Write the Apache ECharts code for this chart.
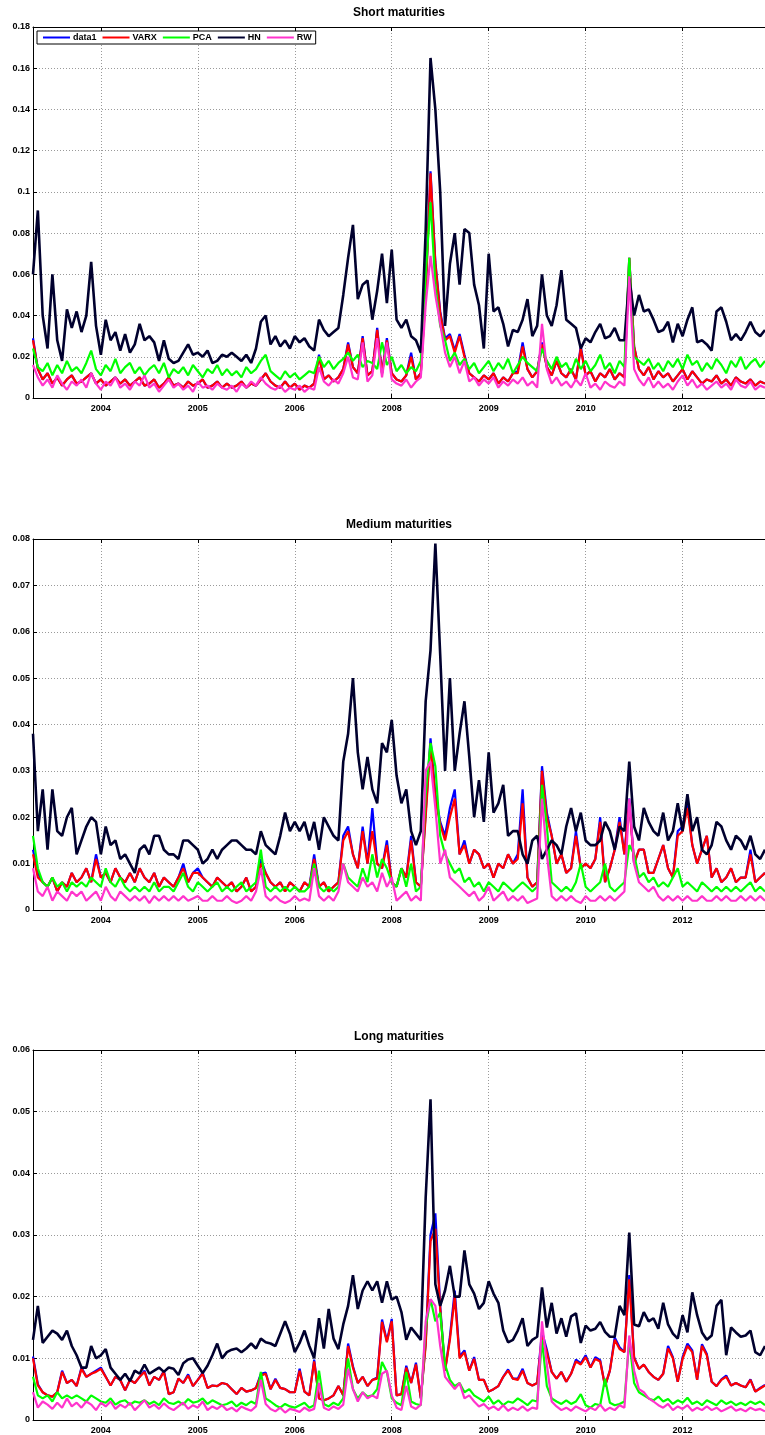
<!DOCTYPE html>
<html>
<head>
<meta charset="utf-8">
<script src="https://cdn.jsdelivr.net/npm/echarts@6/dist/echarts.min.js"></script>
<style>
  html, body { margin: 0; padding: 0; background: #fff; }
  #chart { width: 765px; height: 1435px; }
</style>
</head>
<body>
<div id="chart"></div>
<script>
// Weekly forecast errors, stored in thousandths (1 = 0.001)
const SERIES_NAMES = ['data1', 'VARX', 'PCA', 'HN', 'RW'];
const PANEL_TITLES = ['Short maturities', 'Medium maturities', 'Long maturities'];
const TICK_INDEX = [14, 34, 54, 74, 94, 114, 134];
const TICK_LABELS = ['2004', '2005', '2006', '2008', '2009', '2010', '2012'];

// ---- Short maturities ----
const DATA1_SHORT = [
  29,14,9,12,7,10,6,9,11,7,
  8,10,12,7,9,6,8,10,7,9,
  6,8,10,6,7,9,5,7,10,6,
  7,5,8,6,7,9,5,6,8,5,
  7,5,6,8,5,7,6,9,12,8,
  6,5,8,5,7,4,6,5,7,21,
  9,11,8,10,14,27,15,12,30,11,
  13,34,12,29,12,9,8,11,22,9,
  12,52,110,66,42,29,31,23,31,21,
  12,10,8,11,9,12,7,10,8,12,
  13,27,14,10,13,27,15,11,18,12,
  10,14,9,25,11,13,8,12,10,14,
  9,12,10,68,25,14,11,15,9,13,
  10,12,8,11,14,9,13,10,7,9,
  8,11,7,9,6,10,8,7,9,6,
  8,7];
const VARX_SHORT = [
  28,14,9,12,7,10,6,9,11,7,
  8,10,12,7,9,6,8,10,7,9,
  6,8,10,6,7,9,5,7,10,6,
  7,5,8,6,7,9,5,6,8,5,
  7,5,6,8,5,7,6,9,12,8,
  6,5,8,5,7,4,6,5,7,20,
  9,11,8,10,14,26,15,12,29,11,
  13,33,12,28,12,9,8,11,20,9,
  12,50,109,65,41,28,30,22,30,20,
  12,10,8,11,9,12,7,10,8,12,
  12,25,14,10,13,26,15,11,18,12,
  10,14,9,24,11,13,8,12,10,14,
  9,12,10,68,25,14,11,15,9,13,
  10,12,8,11,14,9,13,10,7,9,
  8,11,7,9,6,10,8,7,9,6,
  8,7];
const PCA_SHORT = [
  24,15,13,17,11,16,12,18,13,15,
  12,17,23,14,11,16,13,19,12,15,
  17,12,15,11,14,16,12,17,10,14,
  12,15,11,16,13,10,14,12,16,11,
  14,11,13,10,15,12,14,18,21,13,
  11,9,13,10,12,9,11,13,12,20,
  15,18,14,17,19,22,18,21,15,18,
  17,14,27,16,20,13,16,12,15,13,
  18,60,95,55,35,28,18,22,16,19,
  14,17,12,15,18,13,17,14,19,12,
  16,20,17,15,13,24,18,14,20,15,
  17,12,19,14,18,13,16,21,14,17,
  12,18,15,68,20,18,16,19,14,17,
  13,18,15,19,14,21,16,18,13,17,
  14,19,16,12,18,15,20,14,17,19,
  15,18];
const HN_SHORT = [
  60,91,40,24,60,28,18,43,34,42,
  32,40,66,35,21,38,28,32,23,31,
  22,26,36,28,30,27,18,28,19,17,
  18,22,26,21,22,20,23,17,18,21,
  20,22,20,18,21,17,24,37,40,26,
  30,25,28,24,30,27,29,25,23,38,
  33,30,32,34,50,68,84,48,55,57,
  38,52,70,46,72,38,34,38,30,28,
  22,81,165,140,100,35,65,80,55,82,
  80,55,45,24,70,42,44,36,25,33,
  32,38,48,30,35,60,40,35,45,62,
  38,36,34,24,29,27,32,36,29,30,
  34,28,28,58,40,50,42,43,38,32,
  33,37,27,36,30,38,44,27,28,26,
  23,42,44,37,28,31,28,32,37,32,
  30,33];
const RW_SHORT = [
  16,10,6,9,5,11,7,4,8,6,
  9,5,12,7,4,8,6,10,5,7,
  4,8,6,11,5,7,3,6,9,5,
  7,4,6,3,8,5,6,4,7,5,
  4,6,3,7,5,8,6,10,7,5,
  4,6,3,5,4,6,3,5,4,15,
  8,6,9,7,12,20,10,9,27,8,
  11,29,10,27,9,7,6,9,5,8,
  10,45,69,50,36,22,15,20,12,18,
  8,10,6,9,7,10,5,8,6,9,
  7,10,6,8,5,36,14,7,10,6,
  8,5,9,6,12,5,7,4,8,6,
  5,8,6,59,14,9,6,10,5,8,
  5,7,4,8,11,6,9,5,7,4,
  6,8,5,7,4,9,6,5,8,4,
  6,5];

// ---- Medium maturities ----
const DATA1_MEDIUM = [
  13,8,6,5,7,4,6,5,8,6,
  7,9,6,12,7,8,6,9,7,6,
  8,6,9,7,6,8,5,7,6,5,
  7,10,6,8,9,7,6,5,7,6,
  5,6,4,5,7,4,5,11,8,6,
  5,6,4,6,5,4,6,5,12,5,
  6,4,5,6,16,18,12,9,18,10,
  22,10,9,15,6,5,9,7,16,6,
  5,21,37,25,19,16,22,26,12,15,
  10,13,12,9,10,7,10,9,12,10,
  12,26,7,5,6,31,21,16,10,12,
  8,9,17,9,10,9,11,20,6,9,
  13,20,12,24,10,13,13,8,8,11,
  14,9,7,17,18,23,14,10,13,16,
  7,9,6,7,9,6,7,7,13,6,
  7,8];
const VARX_MEDIUM = [
  12,7,6,5,7,4,6,5,8,6,
  7,9,6,11,7,8,6,9,7,6,
  8,6,9,7,6,8,5,7,6,5,
  7,9,6,8,8,7,6,5,7,6,
  5,6,4,5,7,4,5,10,8,6,
  5,6,4,6,5,4,6,5,11,5,
  6,4,5,6,15,17,12,9,17,10,
  17,10,9,14,6,5,9,7,15,6,
  5,20,36,24,18.5,15,20,24,12,14,
  10,13,12,9,10,7,10,9,12,10,
  11,23,7,5,6,30,20,16,10,12,
  8,9,16,9,10,9,11,19,6,9,
  13,19,12,23,10,13,13,8,8,11,
  14,9,7,16,17,22,14,10,13,16,
  7,9,6,7,9,6,7,7,12,6,
  7,8];
const PCA_MEDIUM = [
  16,9,6,5,7,5,6,4,6,5,
  6,5,7,6,5,9,6,5,7,5,
  4,5,4,5,4,6,4,5,5,4,
  6,8,5,4,6,5,4,5,6,4,
  5,4,5,6,4,5,6,13,5,4,
  5,4,5,4,5,4,4,5,10,5,
  4,5,4,5,10,7,6,5,9,6,
  12,7,11,9,6,5,9,5,10,4,
  5,25,36,31,16,12,10,8,9,6,
  7,5,6,4,6,5,4,6,5,4,
  5,6,5,4,5,27,18,6,5,4,
  5,4,6,10,5,4,5,6,10,5,
  4,5,6,14,12,7,8,6,7,5,
  6,5,7,9,5,6,5,4,6,5,
  4,5,4,5,4,5,4,5,6,4,
  5,4];
const HN_MEDIUM = [
  38,17,26,13,26,17,16,20,22,12,
  15,18,20,19,12,18,14,15,11,12,
  10,8,13,14,12,16,16,13,12,12,
  11,15,15,14,13,10,11,13,11,13,
  14,15,15,14,13,13,12,17,14,13,
  12,16,21,17,19,17,19,15,19,13,
  20,18,16,15,32,38,50,34,26,33,
  26,23,36,34,41,29,23,26,17,14,
  17,45,56,79,55,30,50,30,38,45,
  33,20,28,19,34,21,23,27,16,17,
  17,12,10,15,16,11,13,15,14,12,
  18,22,17,21,15,14,14,15,19,17,
  13,18,17,32,18,15,22,19,17,16,
  21,15,17,23,17,25,17,20,13,12,
  14,19,18,15,13,16,15,13,16,12,
  11,13];
const RW_MEDIUM = [
  9,4,3,5,2,4,3,2,4,3,
  4,2,3,4,2,5,3,2,4,3,
  2,3,2,3,1.5,3,2,3,2,3,
  2,3,2,2.5,3,2,2,3,2,2,
  3,2,1.5,2,3,2,4,9,3,2,
  3,2,1.5,2,3,2,2.5,2,9,3,
  2,3,2,4,10,6,5,4,7,5,
  6,4,8,5,7,2,3,4,2,3,
  2,30,32,22,10,13,7,6,5,4,
  3,4,2,3,5,2,3,4,2,3,
  2,3,1.5,2,2.5,24,12,3,2,3,
  2,3,2,1.5,3,2,2,3,2,3,
  2,3,4,24,10,6,5,4,5,3,
  2,3,2,3,2,3,2,2,3,2,
  2,3,2,3,2,2,3,2,3,2,
  3,2];

// ---- Long maturities ----
const DATA1_LONG = [
  10.3,5.8,4.5,4,3.8,4.5,8,6,6.5,5.5,
  8.5,7,7.5,8,8.5,7,5.6,7,6.5,4.8,
  6.5,6,7,8,5.6,7,6.5,8,4.2,4.5,
  6.7,6,7.4,5.5,6.5,7.7,5.2,5.6,5.5,6,
  5.8,5,4.2,5.2,4.6,4.8,5.2,7.5,7.7,5,
  6.7,5.2,5,4.5,4.5,8.3,4.6,4,9.8,3.5,
  3.2,3.5,4,5.5,4,12.4,8.7,6,7,5.5,
  6.5,6.9,16.3,12.8,16.4,4,4.2,8.8,6,9.3,
  3.5,12.5,30,33.5,18.5,8,13.5,21,10.3,11.3,
  8,10.2,6.5,6.5,4.6,5,5.5,7,8.2,6.7,
  6.7,8.3,6,5.6,6,14.3,11.4,7.8,6.7,7.8,
  6.2,7.5,9.8,9.2,10.5,8.5,10.2,9.7,5.5,8,
  13.4,11.8,11,23.5,10.2,8.3,9,7.8,7,6.5,
  7.5,12,10.2,6.2,10.2,12.4,11.3,6.5,12.3,10.7,
  6.2,5.5,6.6,7.2,5.6,6,5.6,5.3,6.6,4.6,
  5.2,5.7];
const VARX_LONG = [
  10,5.6,4.5,4,3.8,4.5,7.8,6,6.5,5.5,
  8.3,7,7.5,7.8,8.3,7,5.6,7,6.5,4.8,
  6.5,6,7,7.8,5.6,7,6.5,7.8,4.2,4.5,
  6.7,6,7.2,5.5,6.5,7.5,5.2,5.6,5.5,6,
  5.8,5,4.2,5.2,4.6,4.8,5.2,7.2,7.5,5,
  6.5,5.2,5,4.5,4.5,8,4.6,4,9.5,3.5,
  3.2,3.5,4,5.5,4,12,8.5,6,7,5.5,
  6.5,6.7,15.9,12.6,16,4,4.2,8.5,6,9,
  3.5,12,29,31,18,8,13,20,10,11,
  8,9.9,6.5,6.5,4.6,5,5.5,7,8,6.7,
  6.5,8,6,5.6,6,13.5,11,7.8,6.7,7.8,
  6.2,7.5,9.5,9,10.2,8.5,9.9,9.5,5.5,8,
  13,11.5,11,22.8,10,8.3,9,7.8,7,6.5,
  7.5,11.6,10,6.2,9.9,12,11,6.5,12,10.5,
  6.2,5.5,6.5,7,5.6,6,5.6,5.3,6.5,4.6,
  5.1,5.6];
const PCA_LONG = [
  7,4,3.5,4,3,4.5,3.5,4,3.5,4,
  3.5,3,4,3.5,3,2.8,3.5,2.5,3,3.2,
  2.5,3,2.8,3.2,2.6,3,2.4,3.5,2.8,2.6,
  3,2.5,3.4,2.8,3,3.5,2.6,3.2,2.8,2.4,
  2.6,3,2.2,2.8,2.4,3,2.6,7.8,3.5,3,
  2.4,2,2.6,2.2,2,2.4,2.8,2,2.4,8,
  2.6,2.2,2.8,2.4,3.5,10,5,3.5,4.5,3.8,
  4,5,9.4,7.8,3.5,2.8,2.4,7.8,3,2.6,
  2.4,15,19.6,16,17.4,9,6.5,5.5,6,4.5,
  5,4,3.5,3,3.8,2.6,3.2,2.4,3,2.8,
  3.5,3,2.4,3.2,3,13,5.5,3.5,3,2.6,
  3.2,2.6,3,4.2,2.4,2,2.6,2.4,6.7,2.8,
  2.4,2.6,3,13,6,4.5,4,3.5,3.2,3.8,
  3,3.4,2.6,3.2,2.8,3.6,2.6,3,2.4,3.2,
  2.8,2.4,3.2,2.6,3,2.4,2.8,2.4,3,2.6,
  3,2.4];
const HN_LONG = [
  13,18.5,12.5,13.5,14.5,14,13,14.5,12,10.5,
  8.5,8.5,12,10,10.5,11.5,8.5,7.5,6.5,7.5,
  6.3,8,7.5,9,7.5,8,8.5,7.8,8.5,8.3,
  7.3,9.2,9.8,10,8.8,7.6,8.8,10.5,12.4,10,
  11,11.4,11.6,11,11.6,12.4,11.6,13.2,12.6,12.4,
  12,14,16,14,11,12.5,14.5,12,10,16.5,
  11.6,18,13.2,11.5,15.5,18.5,23.5,18,21,22.5,
  21,22.5,19,22.5,19.5,20,17.5,13,15,14,
  13,36,52,22,18.5,21,25,20,20,27.5,
  22,20.5,18,19,22.5,20.5,19,14.5,12.6,13,
  14.5,16.5,12,13,13.5,21.5,15,19,14,16.5,
  13.5,16.8,17.3,12.5,15.3,14.5,14.8,15.9,14.3,13.5,
  13.5,18.5,17,30.4,15.5,15.2,17.5,16,16.5,14.8,
  19,15.5,14,13.2,17,14.2,20.7,17,14.2,13,
  13.7,18.5,19.5,10.5,15,14.2,13.5,13.7,14.5,11,
  10.5,12];
const RW_LONG = [
  4.5,2,3,2.5,1.8,2.8,2,3.5,2.2,2.8,
  2,3,2.5,1.6,2.8,2.2,3,1.8,2.5,2,
  2.8,1.6,2.4,3.2,2,2.5,1.8,2.7,2,1.6,
  2.2,2.8,1.8,2.4,2,3,1.6,2.2,1.8,2.4,
  1.6,2,1.4,2.2,1.8,1.5,2.2,6.5,2.6,1.8,
  1.4,2,1.2,1.8,1.6,1.3,2,1.5,1.8,6,
  2,1.6,2.2,1.8,2.5,8.3,5,3,4.5,3.5,
  4,3.5,7.5,8,4,2,1.6,5.5,2.2,1.8,
  2.5,16,19.6,18.5,12,7,6,5,6,3.5,
  4,3,2.2,2.6,1.8,2.2,1.6,2.4,1.5,2,
  1.6,2.2,1.5,2,1.8,16,9,3,2.2,1.6,
  2,1.5,2.2,1.8,1.4,2,1.6,2.5,1.5,2,
  1.6,2.4,2,13.7,8,5,4.5,3.5,3,2.4,
  2,2.6,1.6,2.2,1.8,2.4,1.5,2,1.6,2.2,
  1.6,2,1.4,1.8,2.2,1.5,1.8,1.4,2,1.6,
  1.8,1.4];

const PANEL_DATA = [
  [DATA1_SHORT, VARX_SHORT, PCA_SHORT, HN_SHORT, RW_SHORT],
  [DATA1_MEDIUM, VARX_MEDIUM, PCA_MEDIUM, HN_MEDIUM, RW_MEDIUM],
  [DATA1_LONG, VARX_LONG, PCA_LONG, HN_LONG, RW_LONG]
];
const PER_UNIT = 1000;

// ---- layout & style ----
const COLORS = ['#0000ff', '#ff0000', '#00ff00', '#00002e', '#ff33cc'];
const LINE_WIDTHS = [2.2, 2.2, 2.2, 2.6, 2.2];
const FONT = '"Liberation Sans", Arial, Helvetica, sans-serif';
const Y_MAX = [0.18, 0.08, 0.06];
const Y_STEP = [0.02, 0.01, 0.01];
const GRID_TOP = [27, 539, 1050];
const GRID_H = [371, 371, 372];
const TITLE_TOP = [7, 519, 1031];

const weeks = HN_SHORT.map((_, i) => i);
const isTick = (idx) => TICK_INDEX.indexOf(idx) !== -1;
const dotted = { color: '#9a9a9a', width: 1, type: [1, 2] };
const black = { color: '#000', width: 1 };

const grids = [], xAxes = [], yAxes = [], titles = [], series = [];
for (let p = 0; p < 3; p++) {
  grids.push({ left: 33, top: GRID_TOP[p], width: 732, height: GRID_H[p], containLabel: false });
  titles.push({
    text: PANEL_TITLES[p], left: 399, top: TITLE_TOP[p], textAlign: 'center', padding: 0,
    textStyle: { fontFamily: FONT, fontWeight: 'bold', fontSize: 12, color: '#000' }
  });
  // bottom axis with year labels
  xAxes.push({
    type: 'category', gridIndex: p, data: weeks, boundaryGap: false, position: 'bottom',
    axisLine: { lineStyle: black },
    axisTick: { inside: true, length: 4, interval: isTick, lineStyle: black },
    axisLabel: {
      interval: isTick, margin: 6,
      fontFamily: FONT, fontWeight: 'bold', fontSize: 9, color: '#000',
      formatter: (v) => TICK_LABELS[TICK_INDEX.indexOf(+v)] || ''
    },
    splitLine: { show: true, interval: isTick, lineStyle: dotted }
  });
  // top frame edge
  xAxes.push({
    type: 'category', gridIndex: p, data: weeks, boundaryGap: false, position: 'top',
    axisLine: { lineStyle: black },
    axisTick: { inside: true, length: 4, interval: isTick, lineStyle: black },
    axisLabel: { show: false },
    splitLine: { show: false }
  });
  yAxes.push({
    type: 'value', gridIndex: p, min: 0, max: Y_MAX[p], interval: Y_STEP[p],
    axisLine: { show: true, lineStyle: black },
    axisTick: { show: true, inside: true, length: 4, lineStyle: black },
    axisLabel: {
      margin: 3, fontFamily: FONT, fontWeight: 'bold', fontSize: 9, color: '#000',
      formatter: (v) => String(Math.round(v * 1000) / 1000)
    },
    splitLine: { show: true, lineStyle: dotted }
  });
  SERIES_NAMES.forEach((name, k) => {
    series.push({
      type: 'line', name: name, xAxisIndex: 2 * p, yAxisIndex: p,
      data: PANEL_DATA[p][k].map((v) => v / PER_UNIT),
      symbol: 'none', silent: true, animation: false,
      lineStyle: { width: LINE_WIDTHS[k], color: COLORS[k] },
      itemStyle: { color: COLORS[k] },
      emphasis: { disabled: true }
    });
  });
}

const chart = echarts.init(document.getElementById('chart'), null, { renderer: 'canvas' });
chart.setOption({
  animation: false,
  backgroundColor: '#fff',
  title: titles,
  legend: {
    data: SERIES_NAMES, left: 37, top: 31, orient: 'horizontal',
    icon: 'rect', itemWidth: 27, itemHeight: 2, itemGap: 6,
    padding: [2, 4, 2, 6], borderColor: '#000', borderWidth: 1, backgroundColor: '#fff',
    textStyle: { fontFamily: FONT, fontWeight: 'bold', fontSize: 9, color: '#000', padding: [0, 0, 0, -2] },
    selectedMode: false
  },
  grid: grids,
  xAxis: xAxes,
  yAxis: yAxes,
  series: series
});
</script>
</body>
</html>
